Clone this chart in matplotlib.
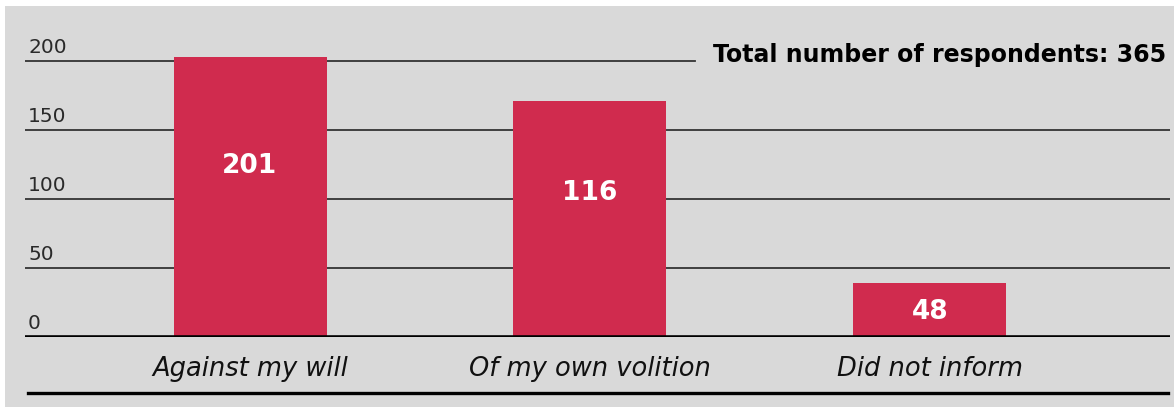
import matplotlib.pyplot as plt
import matplotlib.transforms as mtransforms
from matplotlib.patches import Rectangle
from matplotlib.lines import Line2D

# data (bar heights on the axis scale, printed labels as shown)
categories = ['Against my will', 'Of my own volition', 'Did not inform']
bar_heights = [203, 171, 39]
bar_labels = ['201', '116', '48']
y_ticks = [0, 50, 100, 150, 200]
total_text = 'Total number of respondents: 365'

BG = '#d9d9d9'
RED = '#d02b4e'
W, H = 1174, 407

fig = plt.figure(figsize=(W / 100, H / 100), dpi=100, facecolor='white')
fig.patches.append(Rectangle((5 / W, 0), 1 - 5 / W, 1 - 6 / H, transform=fig.transFigure,
                             facecolor=BG, edgecolor='none', zorder=-10))

# axes spans px x 25..1170, px y 337 (zero line) .. 33
ax = fig.add_axes([25 / W, (H - 337) / H, 1145 / W, (337 - 33) / H])
ax.set_facecolor('none')
px_per_unit = 1.38
ax.set_ylim(0, (337 - 33) / px_per_unit)
ax.set_xlim((25 - 250) / 340, (1170 - 250) / 340)
for s in ax.spines.values():
    s.set_visible(False)
ax.set_xticks([])
ax.set_yticks([])

x = list(range(len(categories)))

# gridlines
for v in y_ticks[1:]:
    xmax = (695 - 25) / 1145 if v == 200 else 1.0
    ax.axhline(v, xmin=0, xmax=xmax, color='#333333', lw=1.3, zorder=1)
ax.axhline(0, color='black', lw=2.6, zorder=3)

blend = mtransforms.blended_transform_factory(ax.transAxes, ax.transData)
for v in y_ticks:
    ax.text(3 / 1145, v + 3, str(v), transform=blend, ha='left', va='bottom',
            fontsize=14.5, color='#2a2a2a', family='DejaVu Sans')

ax.bar(x, bar_heights, width=153 / 340, color=RED, zorder=2)

label_frac = [0.61, 0.61, 0.47]
for xi, h, lab, f in zip(x, bar_heights, bar_labels, label_frac):
    ax.text(xi, h * f, lab, ha='center', va='center', color='white',
            fontsize=19, fontweight='heavy', family='DejaVu Sans', zorder=4)

for xi, cat in zip(x, categories):
    ax.text(xi, -23.5, cat, ha='center', va='center', fontsize=18.5, style='italic',
            color='#111111', family='DejaVu Sans', clip_on=False)

ax.text(1166 / W, 1 - 55 / H, total_text, transform=fig.transFigure, ha='right', va='center',
        fontsize=17, fontweight='bold', family='DejaVu Sans', color='black')

fig.add_artist(Line2D([28 / W, 1168 / W], [1 - 393 / H, 1 - 393 / H], color='black', lw=2.4,
                      transform=fig.transFigure))

fig.savefig('out.png', dpi=100, facecolor='white')
